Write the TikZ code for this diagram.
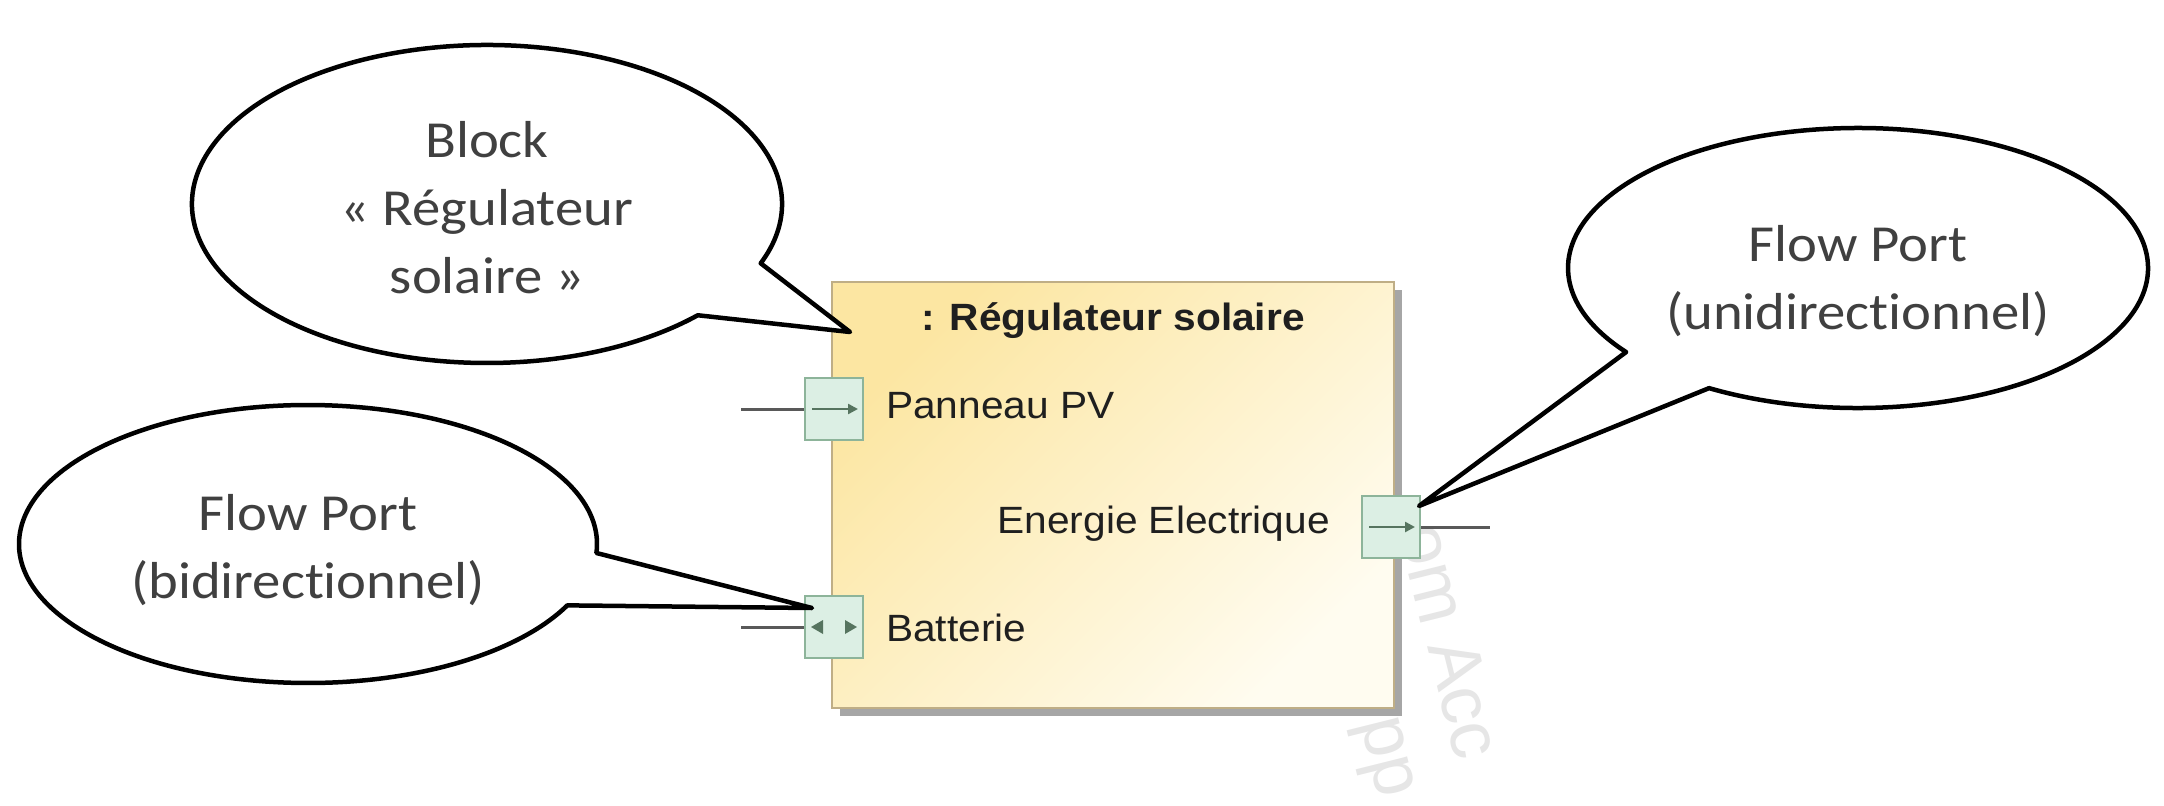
\documentclass[tikz,border=0pt]{standalone}
\usepackage{fontspec}
\setmainfont{Liberation Sans}
\newfontfamily\callfont[FakeStretch=1.09,Ligatures=NoCommon]{Carlito}
\newfontfamily\blockfont[FakeStretch=1.07]{Liberation Sans}
\usetikzlibrary{shadows,arrows.meta}
\definecolor{blocktop}{HTML}{FCE6A2}
\definecolor{blockbot}{HTML}{FFFCF0}
\definecolor{blockedge}{HTML}{BFAE86}
\definecolor{portfill}{HTML}{DCEFE4}
\definecolor{portedge}{HTML}{8DB49A}
\definecolor{portarrow}{HTML}{56745F}
\definecolor{calltext}{HTML}{404040}
\definecolor{wmark}{HTML}{E6E6E6}
\tikzset{
 callout/.style={draw=black, line width=4.5pt, line join=round, fill=white},
 calltxt/.style={font=\callfont\fontsize{52}{68}\selectfont, text=calltext, align=center, inner sep=0pt},
 blocktxt/.style={font=\blockfont\fontsize{38}{46}\selectfont, text=black!88, inner sep=0pt},
 portbox/.style={draw=portedge, line width=2pt, fill=portfill, minimum width=58pt, minimum height=62pt, inner sep=0pt},
 portline/.style={draw=black!65, line width=3pt},
 parrow/.style={draw=portarrow, line width=2.4pt, -{Triangle[length=10pt,width=10pt]}},
 wm/.style={font=\fontsize{72}{86}\selectfont, text=wmark, rotate=-76, inner sep=0pt},
}
\begin{document}
\begin{tikzpicture}[x=1pt,y=1pt]
\useasboundingbox[fill=white] (0,0) rectangle (2164,-806);
% faint watermark
\node[wm, anchor=base west] (wm1) at (1398,-530) {om};
\node[wm, anchor=base west] (wm2) at (1427,-646) {Acc};
\node[wm, anchor=base west] (wm3) at (1360,-722) {pp};
% block
\node[draw=blockedge, line width=2pt, top color=blocktop, bottom color=blockbot, shading angle=45,
      minimum width=562pt, minimum height=426pt, inner sep=0pt,
      drop shadow={shadow xshift=8pt, shadow yshift=-8pt, fill=black!35, opacity=1}] (blk) at (1113,-495) {};
\node[blocktxt, anchor=base] (ttl) at (1113,-330) {\bfseries : Régulateur solaire};
% ports
\node[portbox] (pvport) at (834,-409) {};
\node[portbox] (batport) at (834,-627) {};
\node[portbox] (eeport) at (1391,-527) {};
\node[blocktxt, anchor=base west] (pvlbl) at (886,-418) {Panneau PV};
\node[blocktxt, anchor=base east] (eelbl) at (1330,-533) {Energie Electrique};
\node[blocktxt, anchor=base west] (batlbl) at (886,-641) {Batterie};
% port connectors
\coordinate (pvend) at (741,-409);
\coordinate (batend) at (741,-627);
\coordinate (eeend) at (1490,-527);
\draw[portline] (pvend) -- (pvport.west);
\draw[portline] (batend) -- (batport.west);
\draw[portline] (eeport.east) -- (eeend);
% port direction marks
\draw[parrow] ([xshift=8pt]pvport.west) -- ([xshift=-6pt]pvport.east);
\draw[parrow] ([xshift=8pt]eeport.west) -- ([xshift=-6pt]eeport.east);
\fill[portarrow] ([xshift=7pt]batport.west) -- ++(12pt,7pt) -- ++(0,-14pt) -- cycle;
\fill[portarrow] ([xshift=-7pt]batport.east) -- ++(-12pt,7pt) -- ++(0,-14pt) -- cycle;
% callouts
\coordinate (c1) at (487,-204);
\coordinate (t1) at (850,-332);
\draw[callout] (c1) ++(-21.9:295pt and 159pt) arc[start angle=-21.9, end angle=315.6, x radius=295pt, y radius=159pt] -- (t1) -- cycle;
\node[calltxt] (ct1) at (487,-208) {Block\\« Régulateur\\solaire »};
\coordinate (c2) at (308,-544);
\coordinate (t2) at (812,-608);
\draw[callout] (c2) ++(-3.7:289pt and 139pt) arc[start angle=-3.7, end angle=333.8, x radius=289pt, y radius=139pt] -- (t2) -- cycle;
\node[calltxt] (ct2) at (308,-550) {Flow Port\\(bidirectionnel)};
\coordinate (c3) at (1858,-268);
\coordinate (t3) at (1419,-506);
\draw[callout] (c3) ++(239.1:290pt and 140pt) arc[start angle=239.1, end angle=576.9, x radius=290pt, y radius=140pt] -- (t3) -- cycle;
\node[calltxt] (ct3) at (1858,-281) {Flow Port\\(unidirectionnel)};
\end{tikzpicture}
\end{document}
